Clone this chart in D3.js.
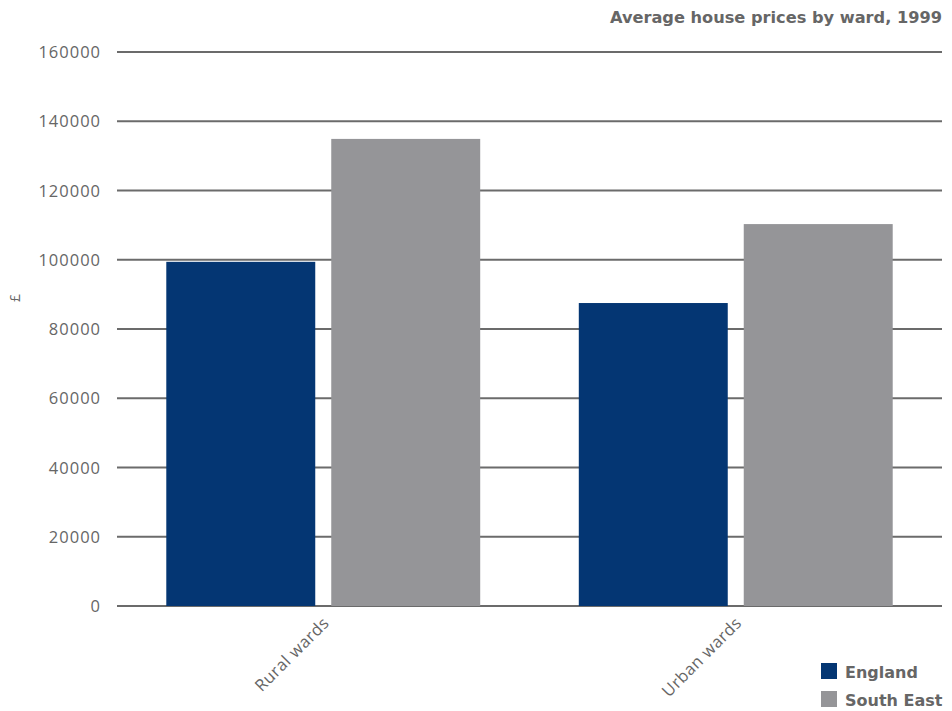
<!DOCTYPE html>
<html><head><meta charset="utf-8">
<script src="https://cdn.jsdelivr.net/npm/d3@7/dist/d3.min.js"></script>
<style>body{margin:0;background:#fff}svg{display:block}</style>
</head><body>
<svg id="chart" width="952" height="711"></svg>
<script>
const categories = ["Rural wards", "Urban wards"];
const seriesNames = ["England", "South East"];
const england = [99400, 87500];
const southEast = [134900, 110300];
const yTicks = [0, 20000, 40000, 60000, 80000, 100000, 120000, 140000, 160000];
const colors = ["#043673", "#959598"];
const title = "Average house prices by ward, 1999";
const yLabel = "£";

const svg = d3.select("#chart");
const plotLeft = 117, plotRight = 942, plotTop = 52, plotBottom = 606;
const textColor = "#666666";
const font = "'Open Sans', sans-serif";

const y = d3.scaleLinear().domain([0, 160000]).range([plotBottom, plotTop]);
const x0 = d3.scaleBand().domain(categories).range([plotLeft, plotRight]).paddingInner(0.239).paddingOuter(0.1195);
const x1 = d3.scaleBand().domain(seriesNames).range([0, x0.bandwidth()]).paddingInner(0.097).paddingOuter(0);

// gridlines
svg.append("g").selectAll("line").data(yTicks).join("line")
  .attr("x1", plotLeft).attr("x2", plotRight)
  .attr("y1", d => y(d)).attr("y2", d => y(d))
  .attr("stroke", "#6b6b6b").attr("stroke-width", 2);

// tick labels
const yAxis = d3.axisLeft(y).tickValues(yTicks).tickSize(0).tickPadding(0).tickFormat(d3.format("d"));
const ga = svg.append("g").attr("transform", `translate(${plotLeft - 16},0)`).call(yAxis);
ga.select(".domain").remove();
ga.selectAll("text").attr("fill", textColor).style("font-family", font).style("font-size", "16.5px").attr("dy", "0.34em").attr("letter-spacing", "1px");

// bars
const data = categories.map((c, i) => ({cat: c, vals: [england[i], southEast[i]]}));
const groups = svg.append("g").selectAll("g").data(data).join("g")
  .attr("transform", d => `translate(${x0(d.cat)},0)`);
groups.selectAll("rect").data(d => d.vals.map((v, j) => ({s: seriesNames[j], v, j})))
  .join("rect")
  .attr("x", d => x1(d.s)).attr("width", x1.bandwidth())
  .attr("y", d => y(d.v)).attr("height", d => y(0) - y(d.v))
  .attr("fill", d => colors[d.j]);

// x labels rotated
svg.append("g").selectAll("text").data(categories).join("text")
  .attr("transform", d => `translate(${x0(d) + x0.bandwidth() / 2 + 7},${plotBottom + 18}) rotate(-45)`)
  .attr("text-anchor", "end")
  .attr("fill", textColor).style("font-family", font).style("font-size", "16.5px").attr("letter-spacing", "0.5px")
  .text(d => d);

// y label
svg.append("text").attr("transform", `translate(20,298) rotate(-90)`)
  .attr("text-anchor", "middle").attr("fill", textColor)
  .style("font-family", font).style("font-size", "14px").text(yLabel);

// title
svg.append("text").attr("x", 942).attr("y", 23).attr("text-anchor", "end")
  .attr("fill", textColor).style("font-family", "'DejaVu Sans', sans-serif").style("font-weight", "bold").style("font-size", "16.2px")
  .text(title);

// legend
const lg = svg.append("g").selectAll("g").data(seriesNames).join("g")
  .attr("transform", (d, i) => `translate(821,${663 + i * 28})`);
lg.append("rect").attr("width", 16).attr("height", 16).attr("fill", (d, i) => colors[i]);
lg.append("text").attr("x", 24).attr("y", 15).attr("fill", textColor)
  .style("font-family", "'DejaVu Sans', sans-serif").style("font-weight", "bold").style("font-size", "16px")
  .text(d => d);
</script>
</body></html>
